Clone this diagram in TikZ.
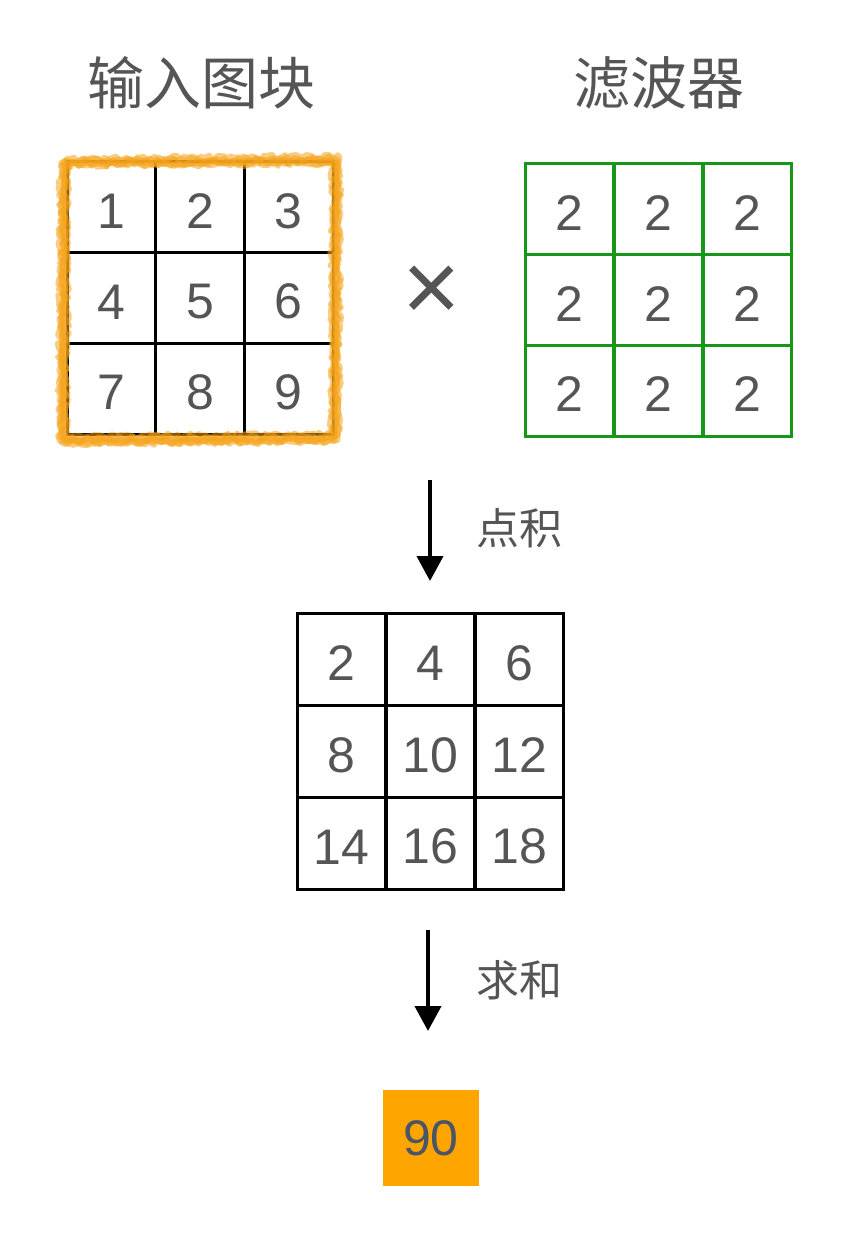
\documentclass[tikz,border=0pt]{standalone}
\usepackage{fontspec}
\setmainfont{Liberation Sans}
\newfontfamily\cjk{Noto Sans CJK SC}
\usetikzlibrary{arrows.meta,decorations.pathmorphing}
\definecolor{txtgray}{HTML}{555555}
\definecolor{filtgreen}{RGB}{24,150,24}
\definecolor{crayonorange}{RGB}{245,163,26}
\definecolor{sumorange}{RGB}{255,165,0}
\definecolor{sumtext}{HTML}{4A5568}
\tikzset{
  cell/.style={draw, line width=3pt, minimum width=88.7pt, minimum height=90.7pt, inner sep=0pt, text height=42pt, font=\fontsize{50}{50}\selectfont, text=txtgray},
  filtcell/.style={cell, draw=filtgreen},
  title/.style={font=\cjk\fontsize{57}{57}\selectfont, text=txtgray},
  opname/.style={font=\cjk\fontsize{43}{43}\selectfont, text=txtgray},
  flow/.style={line width=4pt, -{Triangle[width=26pt,length=25pt]}},
  crayon/.style={draw=crayonorange, line width=6pt, opacity=.55, line join=round, decorate, decoration={random steps, segment length=3pt, amplitude=2.5pt}}
}
\begin{document}
\begin{tikzpicture}[x=1pt,y=-1pt]
\useasboundingbox (0,0) rectangle (848,1233);
\pgfmathsetseed{11}

% titles
\node[title] (t-in) at (201,83) {输入图块};
\node[title] (t-flt) at (659,83) {滤波器};

% input patch
\foreach \v [count=\k from 0] in {1,2,3,4,5,6,7,8,9}
  \node[cell] (in-\k) at ({111.4+88.7*mod(\k,3)},{207.3+90.7*floor(\k/3)}) {\v};
% crayon frame, several passes
\foreach \dx/\dy in {0/0, -3/2, 3/-2, -1/4, 2/3}
  \draw[crayon, shift={(\dx,\dy)}] (64,161) -- (336,159) -- (335,437) -- (63,439) -- cycle;

% times sign
\node[text=txtgray, font=\fontsize{100}{100}\selectfont] (times) at (432,294) {×};

% filter
\foreach \v [count=\k from 0] in {2,2,2,2,2,2,2,2,2}
  \node[filtcell] (flt-\k) at ({569.5+89*mod(\k,3)},{209.3+90.7*floor(\k/3)}) {\v};

% dot product
\coordinate (dot-s) at (430,480);
\coordinate (dot-e) at (430,581);
\draw[flow] (dot-s) -- (dot-e);
\node[opname] (dot) at (519,528) {点积};

% products
\foreach \v [count=\k from 0] in {2,4,6,8,10,12,14,16,18}
  \node[cell, minimum height=91.7pt] (prod-\k) at ({341.5+89*mod(\k,3)},{659.8+91.7*floor(\k/3)}) {\v};

% sum
\coordinate (sum-s) at (428,930);
\coordinate (sum-e) at (428,1031);
\draw[flow] (sum-s) -- (sum-e);
\node[opname] (sum) at (519,980) {求和};

\node[fill=sumorange, minimum size=96pt, inner sep=0pt, text=sumtext, font=\fontsize{50}{50}\selectfont] (total) at (431,1138) {90};
\end{tikzpicture}
\end{document}
